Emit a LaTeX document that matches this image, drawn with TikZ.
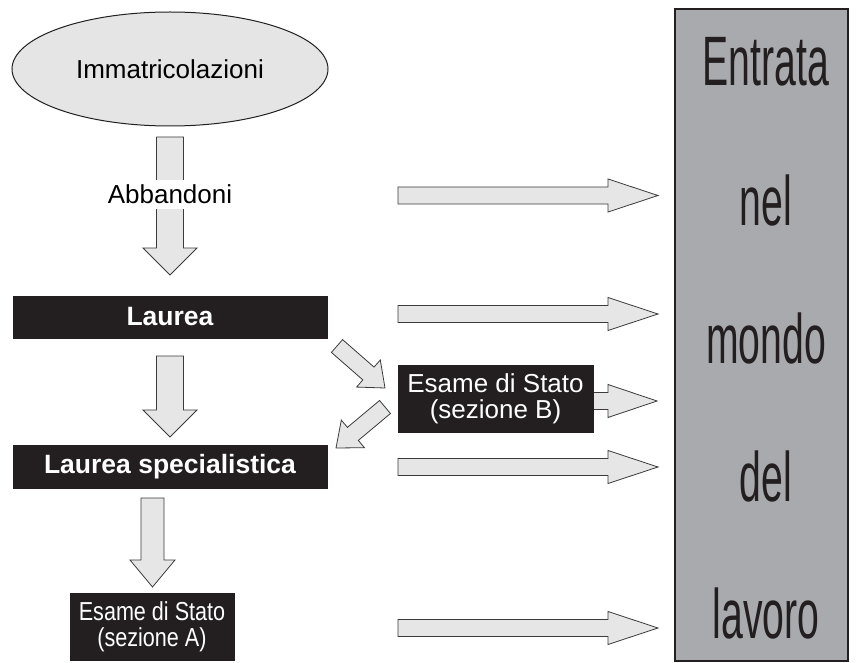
\documentclass[tikz,border=0pt]{standalone}
\usepackage{fontspec}
\setmainfont{Liberation Sans}
\usetikzlibrary{calc,shapes.geometric}
\definecolor{boxblack}{RGB}{35,31,32}
\definecolor{arrgray}{RGB}{230,230,231}
\definecolor{panelgray}{RGB}{169,170,174}
\definecolor{ellgray}{RGB}{229,229,230}
\definecolor{edgegray}{RGB}{60,58,58}
\tikzset{
  blockarr/.style={fill=arrgray, draw=edgegray, line width=0.8pt, line join=miter},
  blackbox/.style={fill=boxblack, draw=boxblack, text=white, inner sep=0pt, align=center},
  paneltext/.style={font=\fontsize{70}{70}\selectfont, text=boxblack, anchor=base, inner sep=0pt},
}
\newcommand{\blockarrow}[5]{%
  \coordinate (hb) at ($(#2)!#5!(#1)$);
  \filldraw[blockarr] ($(#1)!#3!90:(#2)$) -- ($(hb)!#3!90:(#2)$) -- ($(hb)!#4!90:(#2)$) -- (#2)
    -- ($(hb)!#4!-90:(#2)$) -- ($(hb)!#3!-90:(#2)$) -- ($(#1)!#3!-90:(#2)$) -- cycle;
}
\begin{document}
\begin{tikzpicture}[x=1pt, y=-1pt, font=\fontsize{26}{26}\selectfont]
\useasboundingbox (0,0) rectangle (856,663);
% arrow end points
\coordinate (d1s) at (170,137);   \coordinate (d1e) at (170,275);
\coordinate (d2s) at (170,356);   \coordinate (d2e) at (170,437);
\coordinate (d3s) at (152.5,498); \coordinate (d3e) at (152.5,587);
\coordinate (r1s) at (398,195.5); \coordinate (r1e) at (658,195.5);
\coordinate (r2s) at (398,314);   \coordinate (r2e) at (658,314);
\coordinate (r3s) at (590,401);   \coordinate (r3e) at (657,401);
\coordinate (r4s) at (398,467);   \coordinate (r4e) at (658,467);
\coordinate (r5s) at (398,628);   \coordinate (r5e) at (658,628);
\coordinate (g1s) at (337,346);   \coordinate (g1e) at (385,388);
\coordinate (g2s) at (385,407);   \coordinate (g2e) at (336,448);

% right panel
\node[draw=boxblack, fill=panelgray, line width=2.5pt, minimum width=173pt, minimum height=652pt, inner sep=0pt] (panel) at (761.5,335) {};
\node[paneltext] (w1) at (766,86)  {\scalebox{0.56}[1]{Entrata}};
\node[paneltext] (w2) at (766,225) {\scalebox{0.56}[1]{nel}};
\node[paneltext] (w3) at (766,363) {\scalebox{0.56}[1]{mondo}};
\node[paneltext] (w4) at (766,501) {\scalebox{0.56}[1]{del}};
\node[paneltext] (w5) at (766,638) {\scalebox{0.56}[1]{lavoro}};

% left column
\node[ellipse, draw=boxblack, fill=ellgray, line width=1pt, minimum width=316pt, minimum height=114pt, inner sep=0pt] (imm) at (170,69) {Immatricolazioni};

\blockarrow{d1s}{d1e}{13.5pt}{27pt}{27pt}
\node[fill=white, text height=21pt, text depth=2pt, inner ysep=3pt, inner xsep=2pt, anchor=base] (abb) at (170,204) {Abbandoni};

\node[blackbox, minimum width=314pt, minimum height=42pt, font=\fontsize{26.5}{26.5}\selectfont\bfseries] (lau) at (170,317) {Laurea};
\blockarrow{d2s}{d2e}{13.5pt}{27pt}{27pt}
\node[blackbox, minimum width=314pt, minimum height=43pt, font=\fontsize{26.5}{26.5}\selectfont\bfseries] (spec) at (170,466.5) {Laurea specialistica};
\blockarrow{d3s}{d3e}{11.5pt}{22.5pt}{27pt}
\node[blackbox, minimum width=164pt, minimum height=67pt] (esa) at (152,626.5) {\scalebox{0.83}[1]{Esame di Stato}\\\scalebox{0.83}[1]{(sezione A)}};

% diagonal arrows and Esame B
\blockarrow{g1s}{g1e}{8.5pt}{18pt}{22pt}
\blockarrow{g2s}{g2e}{8.5pt}{18pt}{22pt}
\blockarrow{r3s}{r3e}{8.5pt}{16.5pt}{49pt}
\node[blackbox, minimum width=195pt, minimum height=67pt] (esb) at (495.5,398.5) {Esame di Stato\\(sezione B)};

% right arrows
\blockarrow{r1s}{r1e}{8.5pt}{16.5pt}{50pt}
\blockarrow{r2s}{r2e}{8.5pt}{16.5pt}{50pt}
\blockarrow{r4s}{r4e}{8.5pt}{16.5pt}{50pt}
\blockarrow{r5s}{r5e}{8.5pt}{16.5pt}{50pt}
\end{tikzpicture}
\end{document}
